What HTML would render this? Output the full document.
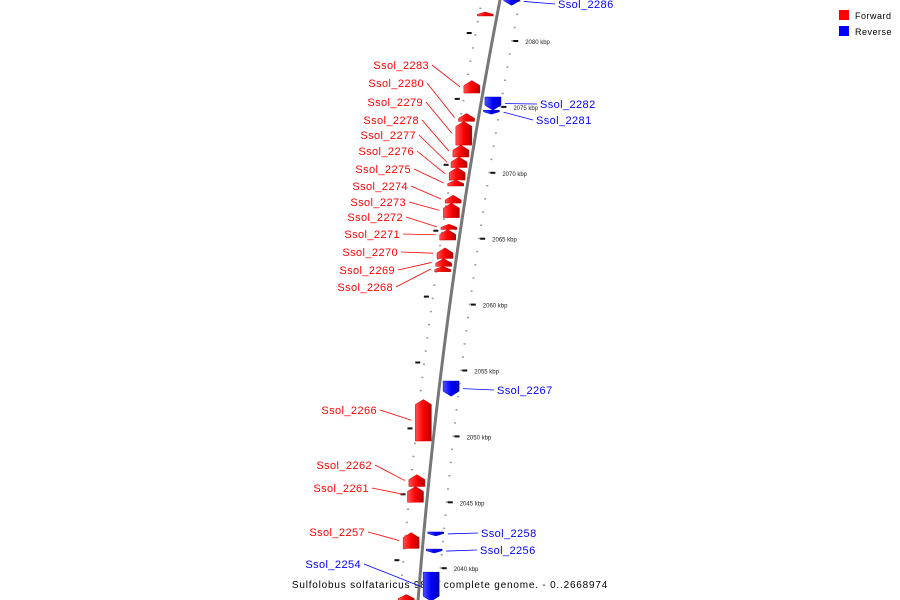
<!DOCTYPE html>
<html><head><meta charset="utf-8"><style>
html,body{margin:0;padding:0;background:#fff;width:900px;height:600px;overflow:hidden}
svg{display:block}
text{font-family:"Liberation Sans",sans-serif}
</style></head><body>
<svg id="chart" width="900" height="600" viewBox="0 0 900 600" xmlns="http://www.w3.org/2000/svg">
<defs>
<linearGradient id="gr" x1="0" x2="1"><stop offset="0" stop-color="#ff5050"/><stop offset="0.5" stop-color="#ff0000"/><stop offset="1" stop-color="#b00000"/></linearGradient>
<linearGradient id="gb" x1="0" x2="1"><stop offset="0" stop-color="#5050ff"/><stop offset="0.5" stop-color="#0000ff"/><stop offset="1" stop-color="#0000b0"/></linearGradient>
<linearGradient id="ga" x1="0" x2="1"><stop offset="0" stop-color="#bbb"/><stop offset="0.5" stop-color="#555"/><stop offset="1" stop-color="#999"/></linearGradient>
</defs>
<g>
<rect x="839" y="10" width="10" height="10" fill="#f00"/>
<text x="855" y="19" font-size="9" letter-spacing="0.5">Forward</text>
<rect x="839" y="26" width="10" height="10" fill="#00f"/>
<text x="855" y="35" font-size="9" letter-spacing="0.5">Reverse</text>
</g>
<text x="450" y="588" font-size="10" text-anchor="middle" letter-spacing="0.8">Sulfolobus solfataricus 98/2, complete genome. - 0..2668974</text>
</svg>
<script>
const tickKbp = [2080, 2075, 2070, 2065, 2060, 2055, 2050, 2045, 2040];
const geneNames = ["", "Ssol_2283","Ssol_2280","Ssol_2279","Ssol_2278","Ssol_2277","Ssol_2276","Ssol_2275","Ssol_2274","Ssol_2273","Ssol_2272","Ssol_2271","Ssol_2270","Ssol_2269","Ssol_2268","Ssol_2266","Ssol_2262","Ssol_2261","Ssol_2257","",
 "Ssol_2286","Ssol_2282","Ssol_2281","Ssol_2267","Ssol_2258","Ssol_2256","Ssol_2254"];
const geneStart = [2082.2,2077.0,2074.5,2073.9,2072.1,2071.2,2070.4,2069.45,2068.3,2067.7,2066.1,2065.7,2064.3,2063.5,2062.9,2052.8,2047.1,2046.2,2042.7,2038.0,
 2083.3,2075.75,2074.75,2054.2,2042.75,2041.45,2039.7];
const geneEnd = [2081.9,2076.05,2073.9,2072.1,2071.2,2070.4,2069.45,2069.0,2067.7,2066.6,2065.7,2064.9,2063.5,2062.9,2062.5,2049.65,2046.2,2045.0,2041.5,2037.5,
 2082.7,2074.75,2074.45,2053.05,2042.45,2041.15,2037.5];
const geneStrand = ["+","+","+","+","+","+","+","+","+","+","+","+","+","+","+","+","+","+","+","+","-","-","-","-","-","-","-"];
// label layout (pixel positions of label text)
const labelY = [0,68,86,105,123,138,154,172,189,205,220,237,255,273,290,413,468,491,535,0,7,107,123,393,536,553,567];
const labelX = [0,429,424,423,419,416,414,411,408,406,403,400,398,395,393,377,372,369,365,0,558,540,536,497,481,480,361];

const NS="http://www.w3.org/2000/svg";
const svg=document.getElementById('chart');
function yOf(k){return 41+(2080-k)*13.18;}
function axX(y){return 500-0.194*y+0.0000958*y*y;}
function mk(tag,attrs,parent){const e=document.createElementNS(NS,tag);for(const a in attrs)e.setAttribute(a,attrs[a]);(parent||svg).appendChild(e);return e;}

const gTicks=mk('g',{});


// minor dots each kbp
for(let k=2084;k>=2037;k--){
  const y=yOf(k);
  if(y<-5||y>605)continue;
  const d=mk('rect',{x:axX(y)+19,y:y-1,width:2,height:1.5,fill:'#999'},gTicks);
  
  
  const y2=y-6;
  const d2=mk('rect',{x:axX(y2)-19,y:y2-1,width:2,height:1.5,fill:'#999'},gTicks);
  
  
}
tickKbp.forEach(k=>{
  const y=yOf(k),x=axX(y);
  const t=mk('rect',{x:x+21,y:y-1,width:5,height:2,fill:'#111'},gTicks);
  
  
  const l=mk('text',{x:x+33,y:y+3,'font-size':6,fill:'#222'},gTicks);
  l.textContent=k+' kbp';
  
  
  const y2=y-8;
  const t2=mk('rect',{x:axX(y2)-27,y:y2-1,width:5,height:2,fill:'#111'},gTicks);
  
  
});
// axis backbone
let pts=[];for(let y=0;y<=600;y+=10)pts.push(axX(y)+','+y);
const ax=mk('polyline',{points:pts.join(' '),fill:'none',stroke:'#777','stroke-width':3});



const gGenes=mk('g',{});


geneNames.forEach((nm,i)=>{
  const y1=yOf(geneStart[i]),y2=yOf(geneEnd[i]);
  const fwd=geneStrand[i]==='+';
  const ym=(y1+y2)/2, x0=axX(ym);
  const h=y2-y1, ah=Math.min(5,h*0.6);
  let poly;
  if(fwd){
    const l=x0-20,r=x0-4,c=(l+r)/2;
    poly=[[l,y1+ah],[c,y1],[r,y1+ah],[r,y2],[l,y2]];
  }else{
    const l=x0+4,r=x0+20,c=(l+r)/2;
    poly=[[l,y1],[r,y1],[r,y2-ah],[c,y2],[l,y2-ah]];
  }
  const p=mk('polygon',{points:poly.map(q=>q.join(',')).join(' '),fill:fwd?'url(#gr)':'url(#gb)',stroke:fwd?'#c00':'#00c','stroke-width':0.5},gGenes);
  
  
  if(!nm)return;
  const col=fwd?'#f00':'#00f';
  const leftSide=labelX[i]<x0;
  const lx=leftSide?labelX[i]+3:labelX[i]-3;
  const gx=fwd?x0-24:(leftSide?x0+2:x0+24);
  const ln=mk('line',{x1:lx,y1:labelY[i]-3,x2:gx,y2:ym,stroke:col,'stroke-width':0.8},gGenes);
  
  
  const t=mk('text',{x:labelX[i],y:labelY[i]+1,'font-size':11,fill:col,'text-anchor':leftSide?'end':'start','letter-spacing':0.4},gGenes);
  t.textContent=nm;
  
  
});
</script>
</body></html>
